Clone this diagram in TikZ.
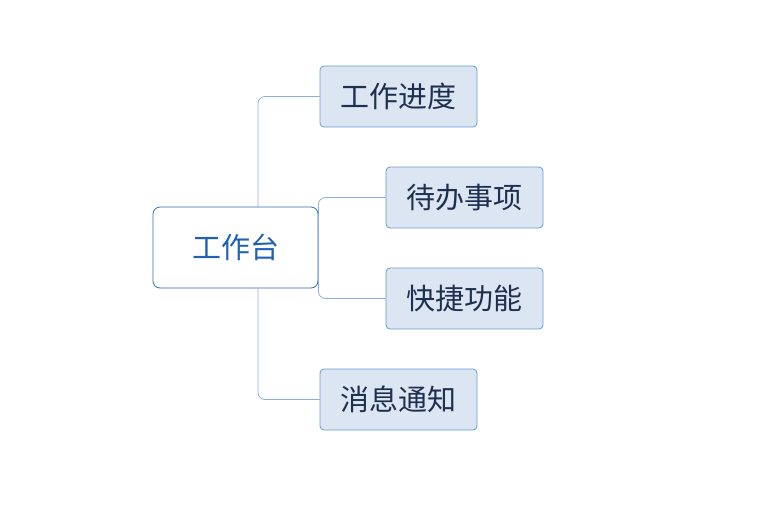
\documentclass[tikz,border=0pt]{standalone}
\usepackage{fontspec}
\newfontfamily\cjk{Noto Sans CJK SC}
\definecolor{rootb}{HTML}{2F6DB5}
\definecolor{roott}{HTML}{1F62B5}
\definecolor{kidf}{HTML}{DCE6F2}
\definecolor{kidb}{HTML}{6A9AD8}
\definecolor{kidt}{HTML}{1F2F4F}
\definecolor{conn}{HTML}{8AAEE0}
\begin{document}
\begin{tikzpicture}[x=1pt,y=-1pt,
  rootbox/.style={draw=rootb,fill=white,rounded corners=7pt,minimum width=165pt,minimum height=81pt,text=roott,font=\cjk\fontsize{29}{32}\selectfont,line width=0.8pt},
  kidbox/.style={draw=kidb,fill=kidf,rounded corners=4pt,minimum width=157pt,minimum height=61pt,text=kidt,font=\cjk\fontsize{29}{32}\selectfont,line width=0.8pt},
  link/.style={draw=conn,line width=0.8pt,rounded corners=7pt}]
\useasboundingbox (0,0) rectangle (757,509);
\node[rootbox] (root) at (235.5,247.5) {工作台};
\node[kidbox] (a) at (398.5,96.5) {工作进度};
\node[kidbox] (b) at (464.5,197.5) {待办事项};
\node[kidbox] (c) at (464.5,298.5) {快捷功能};
\node[kidbox] (d) at (398.5,399.5) {消息通知};
\coordinate (tx) at (258,207);
\coordinate (bx) at (258,288);
\draw[link] (tx) |- (a.west);
\draw[link] (bx) |- (d.west);
\draw[link] (b.west) -| (root.east) |- (c.west);
\end{tikzpicture}
\end{document}
